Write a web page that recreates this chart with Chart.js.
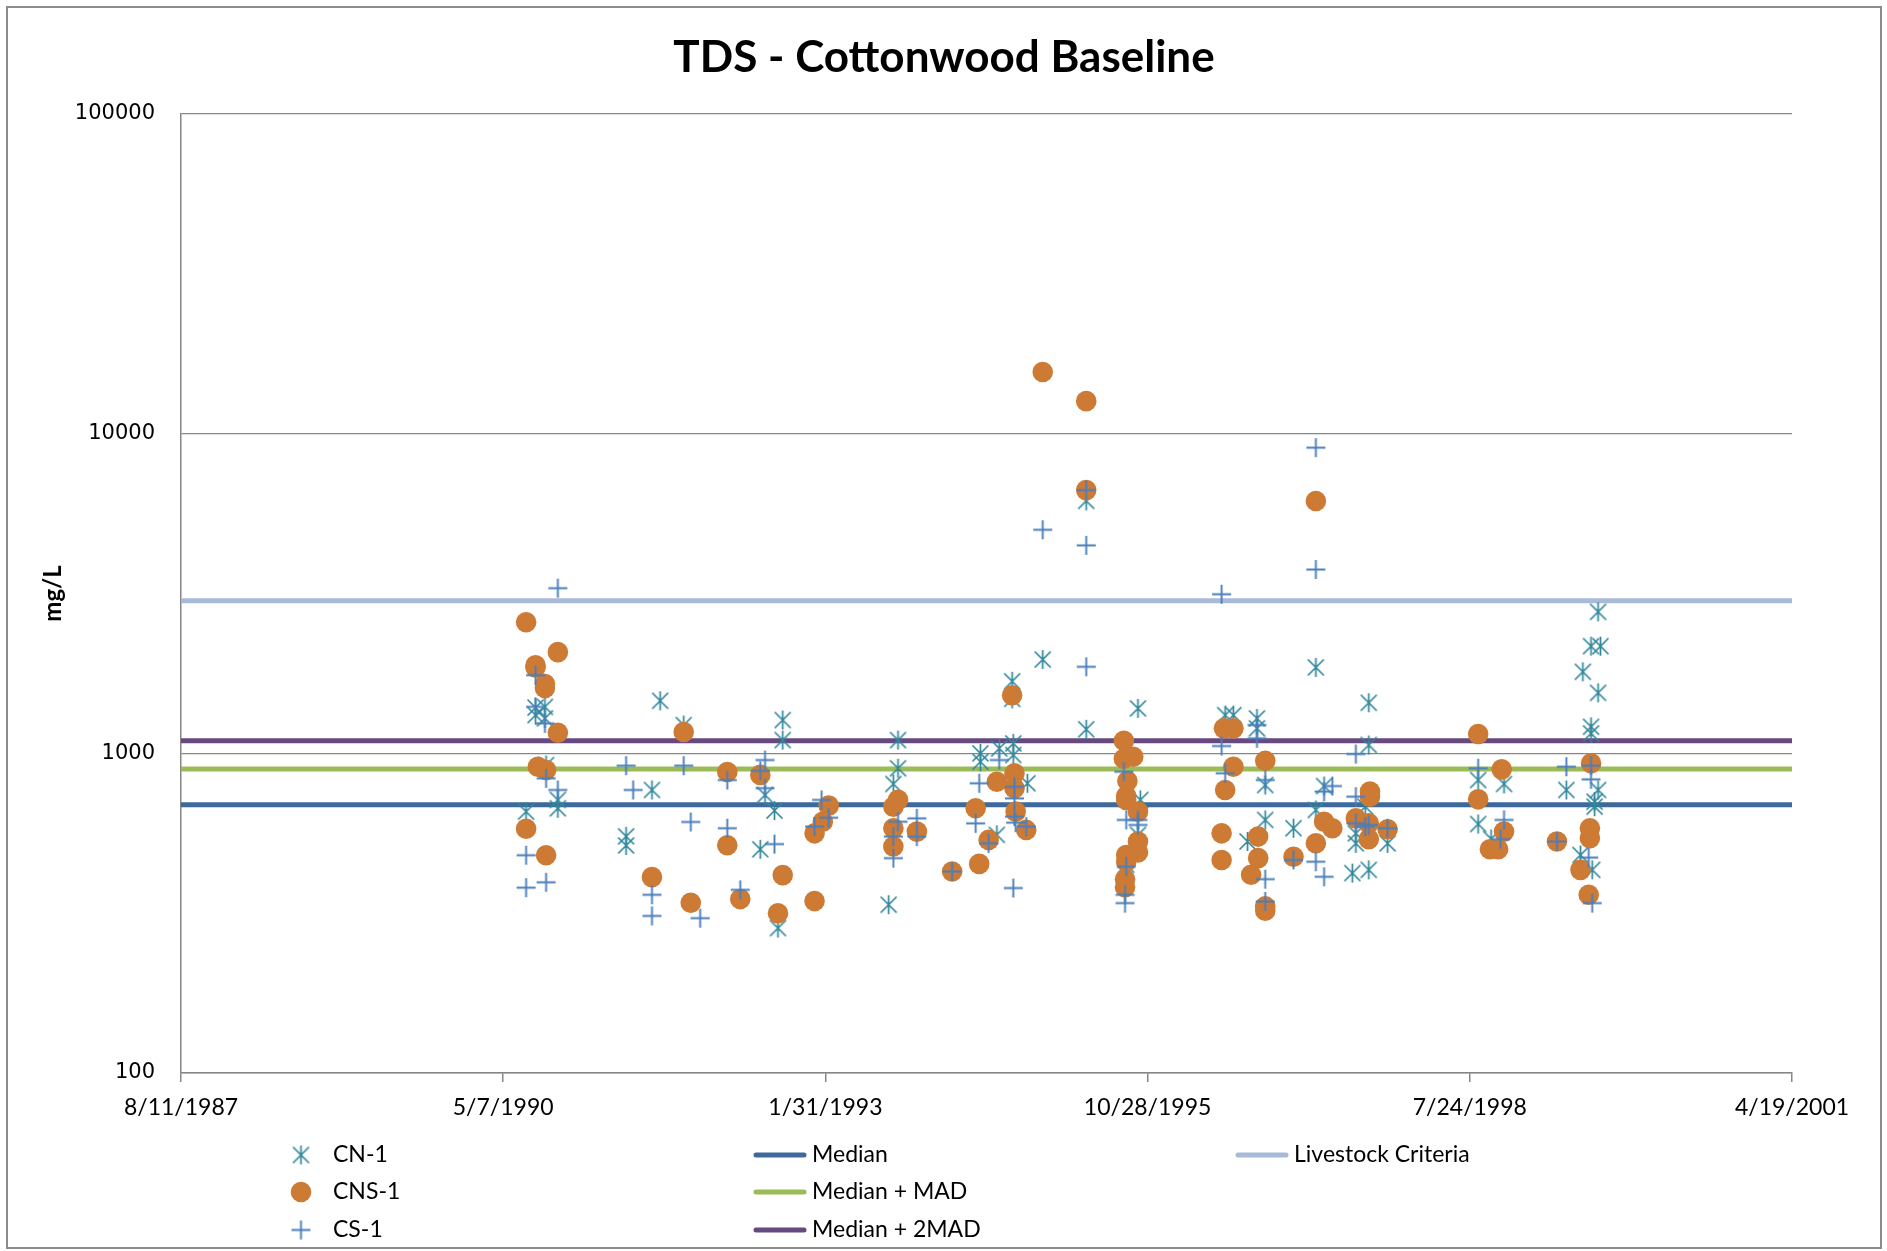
<!DOCTYPE html>
<html>
<head>
<meta charset="utf-8">
<title>TDS - Cottonwood Baseline</title>
<script src="https://cdn.jsdelivr.net/npm/chart.js@4.4.0/dist/chart.umd.min.js"></script>
<style>
  html, body { margin: 0; padding: 0; background: #fff; }
  canvas { display: block; }
</style>
</head>
<body>
<canvas id="tdsChart" width="1887" height="1251"></canvas>
<script>
// sample dates are decimal years, values in mg/L
const cn1 = [
  [1990.54, 657], [1990.62, 1390], [1990.62, 1317], [1990.70, 1398], [1990.70, 1286],
  [1990.71, 919], [1990.81, 715], [1990.81, 673], [1991.39, 550], [1991.39, 515],
  [1991.61, 768], [1991.68, 1460], [1991.88, 1226], [1992.53, 501], [1992.57, 741],
  [1992.65, 662], [1992.68, 284], [1992.72, 1271], [1992.72, 1100], [1993.62, 336],
  [1993.66, 802], [1993.70, 1100], [1993.70, 898], [1994.40, 1000], [1994.40, 941],
  [1994.54, 556], [1994.56, 1036], [1994.67, 1680], [1994.67, 1480], [1994.68, 1074],
  [1994.68, 988], [1994.80, 806], [1994.93, 1965], [1995.30, 6165], [1995.30, 1189],
  [1995.64, 448], [1995.74, 1382], [1995.74, 556], [1995.76, 715], [1996.48, 1317],
  [1996.55, 1317], [1996.75, 1286], [1996.75, 1197], [1996.82, 796], [1996.82, 619],
  [1996.67, 530], [1997.06, 583], [1997.25, 1857], [1997.25, 665], [1997.32, 790],
  [1997.56, 422], [1997.59, 562], [1997.59, 523], [1997.67, 681], [1997.70, 1439],
  [1997.70, 1062], [1997.70, 432], [1997.86, 523], [1998.63, 825], [1998.63, 601],
  [1998.74, 540], [1998.85, 802], [1999.38, 768], [1999.50, 481], [1999.52, 1799],
  [1999.59, 2164], [1999.59, 1211], [1999.59, 1155], [1999.60, 432], [1999.62, 706],
  [1999.62, 681], [1999.65, 2771], [1999.65, 1546], [1999.65, 768], [1999.67, 2164]
];

const cns1 = [
  [1990.54, 2572], [1990.54, 581], [1990.62, 1884], [1990.62, 1857], [1990.64, 908],
  [1990.70, 1647], [1990.70, 1600], [1990.71, 887], [1990.71, 480], [1990.81, 2073],
  [1990.81, 1160], [1991.61, 410], [1991.88, 1166], [1991.94, 341], [1992.25, 874],
  [1992.25, 516], [1992.36, 350], [1992.53, 856], [1992.68, 316], [1992.72, 416],
  [1992.99, 562], [1992.99, 345], [1993.06, 611], [1993.11, 686], [1993.66, 681],
  [1993.66, 583], [1993.66, 511], [1993.70, 715], [1993.86, 569], [1994.16, 427],
  [1994.36, 673], [1994.39, 451], [1994.47, 536], [1994.54, 815], [1994.67, 1520],
  [1994.69, 866], [1994.69, 778], [1994.70, 657], [1994.79, 576], [1994.93, 15600],
  [1995.30, 12640], [1995.30, 6660], [1995.62, 1095], [1995.62, 962], [1995.63, 404],
  [1995.63, 381], [1995.64, 735], [1995.64, 715], [1995.64, 481], [1995.64, 458],
  [1995.65, 819], [1995.70, 976], [1995.74, 657], [1995.74, 530], [1995.74, 490],
  [1996.45, 562], [1996.45, 464], [1996.47, 1197], [1996.48, 768], [1996.55, 1197],
  [1996.55, 908], [1996.70, 417], [1996.76, 549], [1996.76, 470], [1996.82, 948],
  [1996.82, 332], [1996.82, 322], [1997.06, 475], [1997.25, 6155], [1997.25, 523],
  [1997.32, 611], [1997.39, 583], [1997.59, 626], [1997.70, 604], [1997.70, 539],
  [1997.71, 759], [1997.71, 732], [1997.86, 579], [1998.63, 1149], [1998.63, 718],
  [1998.73, 501], [1998.80, 501], [1998.83, 891], [1998.85, 569], [1999.30, 530],
  [1999.50, 432], [1999.57, 361], [1999.58, 583], [1999.58, 543], [1999.59, 931]
];

const cs1 = [
  [1990.54, 480], [1990.54, 380], [1990.62, 1756], [1990.62, 1398], [1990.70, 1241],
  [1990.71, 835], [1990.71, 395], [1990.81, 3286], [1990.81, 768], [1991.39, 915],
  [1991.45, 768], [1991.61, 361], [1991.61, 310], [1991.88, 915], [1991.94, 610],
  [1992.02, 305], [1992.25, 825], [1992.25, 583], [1992.36, 374], [1992.53, 882],
  [1992.57, 953], [1992.57, 778], [1992.65, 520], [1992.99, 590], [1993.05, 715],
  [1993.11, 629], [1993.66, 549], [1993.66, 470], [1993.70, 611], [1993.86, 626],
  [1993.86, 549], [1994.16, 427], [1994.36, 604], [1994.39, 806], [1994.47, 523],
  [1994.56, 953], [1994.68, 379], [1994.69, 786], [1994.69, 723], [1994.69, 634],
  [1994.70, 607], [1994.79, 590], [1994.93, 5005], [1995.30, 6660], [1995.30, 4473],
  [1995.30, 1865], [1995.62, 876], [1995.63, 361], [1995.63, 340], [1995.64, 619],
  [1995.64, 442], [1995.74, 619], [1995.74, 597], [1996.45, 3146], [1996.45, 1054],
  [1996.48, 866], [1996.75, 1226], [1996.75, 1114], [1996.82, 825], [1996.82, 404],
  [1996.82, 344], [1997.06, 464], [1997.25, 9040], [1997.25, 3758], [1997.25, 458],
  [1997.32, 759], [1997.32, 411], [1997.39, 790], [1997.59, 995], [1997.59, 732],
  [1997.59, 604], [1997.67, 590], [1997.70, 597], [1997.86, 583], [1998.63, 898],
  [1998.82, 539], [1998.85, 619], [1999.30, 530], [1999.38, 908], [1999.57, 472],
  [1999.59, 915], [1999.59, 829], [1999.60, 340]
];

// horizontal reference levels
const refLabels = ['Median', 'Median + MAD', 'Median + 2MAD', 'Livestock Criteria'];
const refValues = [691, 893, 1095, 3000];

const xTickLabels = ['8/11/1987', '5/7/1990', '1/31/1993', '10/28/1995', '7/24/1998', '4/19/2001'];
const yTicks = [100, 1000, 10000, 100000];

const chartTitle = 'TDS - Cottonwood Baseline';

function labelToTime(s) {
  const p = s.split('/').map(Number);
  return Date.UTC(p[2], p[0] - 1, p[1]);
}

function yearToTime(yr) {
  const y = Math.floor(yr);
  const start = Date.UTC(y, 0, 1);
  const len = Date.UTC(y + 1, 0, 1) - start;
  return start + (yr - y) * len;
}

const xTickValues = xTickLabels.map(labelToTime);
const xMin = xTickValues[0];
const xMax = xTickValues[xTickValues.length - 1];

function toPoints(arr) {
  return arr.map(p => ({ x: yearToTime(p[0]), y: p[1] }));
}

// marker images like the excel ones
function asteriskMarker(color) {
  const c = document.createElement('canvas');
  c.width = 21; c.height = 21;
  const g = c.getContext('2d');
  g.strokeStyle = color;
  g.lineWidth = 1.7;
  g.beginPath();
  g.moveTo(2.5, 2.5); g.lineTo(18.5, 18.5);
  g.moveTo(18.5, 2.5); g.lineTo(2.5, 18.5);
  g.moveTo(10.5, 1); g.lineTo(10.5, 20);
  g.stroke();
  return c;
}

function plusMarker(color) {
  const c = document.createElement('canvas');
  c.width = 21; c.height = 21;
  const g = c.getContext('2d');
  g.strokeStyle = color;
  g.lineWidth = 1.9;
  g.beginPath();
  g.moveTo(1, 10.5); g.lineTo(20, 10.5);
  g.moveTo(10.5, 1); g.lineTo(10.5, 20);
  g.stroke();
  return c;
}

const refColors = ['#3D6A9B', '#9BBB59', '#66497F', '#A8BAD7'];

const datasets = [
  {
    label: 'CN-1',
    data: toPoints(cn1),
    pointStyle: asteriskMarker('#31879B'),
    pointRadius: 10,
    order: 2
  },
  {
    label: 'CNS-1',
    data: toPoints(cns1),
    pointStyle: 'circle',
    pointRadius: 10.3,
    pointBackgroundColor: '#CD7A35',
    pointBorderWidth: 0,
    borderColor: '#CD7A35',
    order: 1
  },
  {
    label: 'CS-1',
    data: toPoints(cs1),
    pointStyle: plusMarker('#4A7EBB'),
    pointRadius: 10,
    order: 0
  }
];

refLabels.forEach((lbl, i) => {
  datasets.push({
    label: lbl,
    type: 'line',
    data: [{ x: xMin, y: refValues[i] }, { x: xMax, y: refValues[i] }],
    borderColor: refColors[i],
    borderWidth: 5,
    pointRadius: 0,
    showLine: true,
    fill: false,
    order: 3 + i
  });
});

// white background, outer frame and the title (centred on the whole picture)
const frame = {
  id: 'frame',
  beforeDraw(chart) {
    const ctx = chart.ctx;
    ctx.save();
    ctx.fillStyle = '#fff';
    ctx.fillRect(0, 0, chart.width, chart.height);
    ctx.strokeStyle = '#8C8C8C';
    ctx.lineWidth = 2;
    ctx.strokeRect(7, 7, 1874, 1241);
    ctx.fillStyle = '#000';
    ctx.font = 'bold 44px Lato';
    ctx.textAlign = 'center';
    ctx.textBaseline = 'middle';
    ctx.fillText(chartTitle, 944, 58);
    ctx.restore();
  }
};

// legend in 3 columns, filled top to bottom
const gridLegend = {
  id: 'gridLegend',
  afterDraw(chart) {
    const ctx = chart.ctx;
    const colX = [301, 780, 1262];
    const rowY = [1155, 1192, 1230];
    ctx.save();
    ctx.font = '23px Lato';
    ctx.textBaseline = 'middle';
    ctx.textAlign = 'left';
    chart.data.datasets.forEach((ds, i) => {
      const cx = colX[Math.floor(i / 3)];
      const cy = rowY[i % 3];
      if (ds.type === 'line') {
        ctx.strokeStyle = ds.borderColor;
        ctx.lineWidth = 5;
        ctx.lineCap = 'round';
        ctx.beginPath();
        ctx.moveTo(cx - 24, cy);
        ctx.lineTo(cx + 24, cy);
        ctx.stroke();
      } else if (typeof ds.pointStyle === 'object') {
        const img = ds.pointStyle;
        ctx.drawImage(img, cx - img.width / 2, cy - img.height / 2);
      } else {
        ctx.fillStyle = ds.pointBackgroundColor;
        ctx.beginPath();
        ctx.arc(cx, cy, ds.pointRadius, 0, Math.PI * 2);
        ctx.fill();
      }
      ctx.fillStyle = '#000';
      ctx.fillText(ds.label, cx + 32, cy);
    });
    ctx.restore();
  }
};

Chart.defaults.font.family = 'Lato';
Chart.defaults.color = '#000';

new Chart(document.getElementById('tdsChart'), {
  type: 'scatter',
  data: { datasets: datasets },
  options: {
    responsive: false,
    animation: false,
    devicePixelRatio: 1,
    layout: { padding: { left: 0, right: 95, top: 114, bottom: 0 } },
    plugins: {
      legend: { display: false },
      tooltip: { enabled: false },
      title: { display: false }
    },
    scales: {
      x: {
        type: 'linear',
        min: xMin,
        max: xMax,
        afterBuildTicks: scale => { scale.ticks = xTickValues.map(v => ({ value: v })); },
        afterFit: scale => {
          scale.height = 178;
          scale.paddingLeft = 0;
          scale.paddingRight = 0;
        },
        ticks: {
          font: { family: 'Lato', size: 23 },
          color: '#000',
          padding: 12,
          maxRotation: 0,
          autoSkip: false,
          callback: v => xTickLabels[xTickValues.indexOf(v)]
        },
        grid: {
          drawOnChartArea: false,
          drawTicks: true,
          tickLength: 9,
          color: '#868686',
          lineWidth: 1.5
        },
        border: { color: '#868686', width: 1.5 }
      },
      y: {
        type: 'logarithmic',
        min: 100,
        max: 100000,
        afterBuildTicks: scale => { scale.ticks = yTicks.map(v => ({ value: v })); },
        afterFit: scale => {
          scale.width = 181;
          scale.paddingTop = 0;
          scale.paddingBottom = 0;
        },
        ticks: {
          font: { family: 'DejaVu Sans', size: 21 },
          color: '#000',
          padding: 26,
          callback: v => String(v)
        },
        grid: {
          drawTicks: false,
          color: '#868686',
          lineWidth: 1.3
        },
        border: { color: '#868686', width: 1.5 },
        title: {
          display: true,
          text: 'mg/L',
          font: { family: 'Lato', size: 24, weight: 'bold' },
          color: '#000',
          padding: { top: 39, bottom: 0 }
        }
      }
    }
  },
  plugins: [frame, gridLegend]
});
</script>
</body>
</html>
